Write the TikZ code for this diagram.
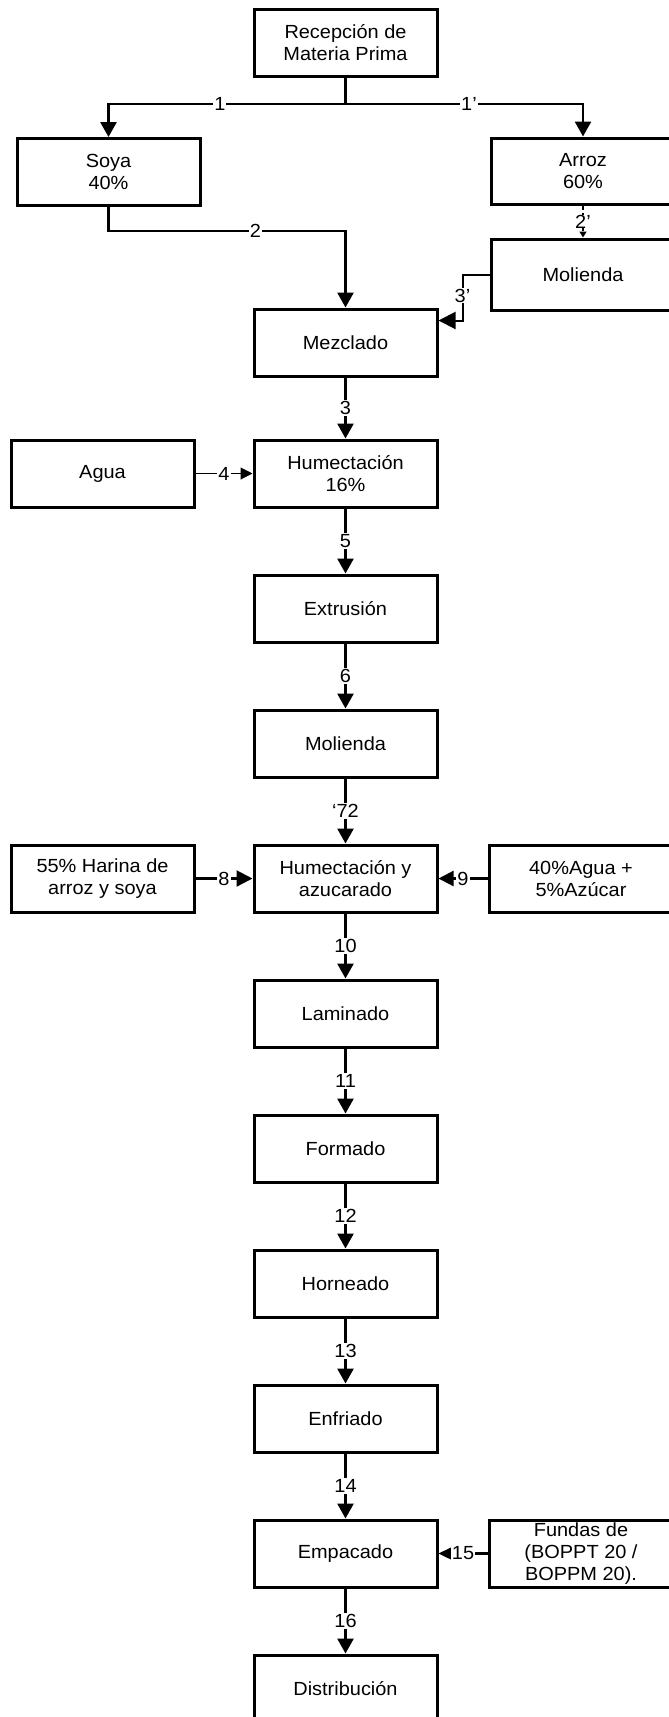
\documentclass[tikz,border=0pt]{standalone}
\usepackage{fontspec}
\setmainfont{Liberation Sans}[FakeStretch=1.05]
\usetikzlibrary{positioning,calc,arrows.meta}

\begin{document}
\begin{tikzpicture}[x=1pt, y=-1pt, node distance=65pt,
    box/.style={draw, line width=3pt, minimum width=183pt, minimum height=67pt,
        inner sep=2pt, align=center, font=\fontsize{19}{22}\selectfont},
    flow/.style={line width=2.7pt, -{Triangle[length=15pt,width=16pt]}},
    link/.style={line width=2.7pt},
    num/.style={fill=white, inner sep=1pt, font=\fontsize{19}{19}\selectfont}]
    \useasboundingbox (0,0) rectangle (669,1717);

    % raw material split
    \node[box] (rec) at (345.5,43) {Recepción de\\Materia Prima};
    \node[box] (soya) at (108.5,172) {Soya\\40\%};
    \node[box, minimum height=66pt, minimum width=184pt] (arroz) at (583,171) {Arroz\\60\%};
    \node[box, minimum height=71pt, minimum width=184pt] (molr) at (583,274.5) {Molienda};

    % main line
    \node[box] (mez) at (345.5,342.5) {Mezclado};
    \node[box, below=61pt of mez] (hum) {Humectación\\16\%};
    \node[box, below=of hum] (ext) {Extrusión};
    \node[box, below=of ext] (mol) {Molienda};
    \node[box, below=of mol] (huma) {Humectación y\\azucarado};
    \node[box, below=of huma] (lam) {Laminado};
    \node[box, below=of lam] (form) {Formado};
    \node[box, below=of form] (horn) {Horneado};
    \node[box, below=of horn] (enf) {Enfriado};
    \node[box, below=of enf] (emp) {Empacado};
    \node[box, below=of emp] (dist) {Distribución};

    % side inputs
    \node[box, left=57pt of hum] (agua) {Agua};
    \node[box, left=57pt of huma] (harina) {55\% Harina de\\arroz y soya};
    \node[box, right=49pt of huma, minimum width=184pt] (agaz) {40\%Agua +\\5\%Azúcar};
    \node[box, right=49pt of emp, minimum width=184pt, inner sep=1pt] (fundas) {Fundas de\\(BOPPT 20 /\\BOPPM 20).};

    % connectors
    \coordinate (split) at ($(rec.south)+(0,26)$);
    \draw[link] (rec.south) -- (split);
    \draw[flow] (split) -| node[num, pos=0.265] {1} (soya.north);
    \draw[flow] (split) -| node[num, pos=0.26] {1'} (arroz.north);
    \draw[flow] (soya.south) -- ++(0,24) -| node[num, pos=0.31] {2} (mez.north);
    \draw[line width=1.6pt, dash pattern=on 4pt off 3pt, -{Triangle[length=6pt,width=7pt]}]
        (arroz.south) -- node[num, inner sep=0pt] {2'} (molr.north);
    \draw[line width=2pt, -{Triangle[length=17pt,width=17pt]}]
        (molr.west) -- ++(-27,0) |- node[num, pos=0.23] {3'} ($(mez.north east)+(0,13)$);

    \draw[flow] (mez) -- node[num] {3} (hum);
    \draw[line width=1pt, -{Triangle[length=12pt,width=12pt]}] (agua) -- node[num] {4} (hum);
    \draw[flow] (hum) -- node[num] {5} (ext);
    \draw[flow] (ext) -- node[num] {6} (mol);
    \draw[flow] (mol) -- node[num] {`72} (huma);
    \draw[line width=2.2pt, -{Triangle[length=16pt,width=16pt]}] (harina) -- node[num] {8} (huma);
    \draw[line width=2.2pt, -{Triangle[length=15pt,width=15pt]}] (agaz) -- node[num] {9} (huma);
    \draw[flow] (huma) -- node[num] {10} (lam);
    \draw[flow] (lam) -- node[num] {11} (form);
    \draw[flow] (form) -- node[num] {12} (horn);
    \draw[flow] (horn) -- node[num] {13} (enf);
    \draw[flow] (enf) -- node[num] {14} (emp);
    \draw[line width=2.2pt, -{Triangle[length=15pt,width=14pt]}] (fundas) -- node[num] {15} (emp);
    \draw[flow] (emp) -- node[num] {16} (dist);
\end{tikzpicture}
\end{document}
